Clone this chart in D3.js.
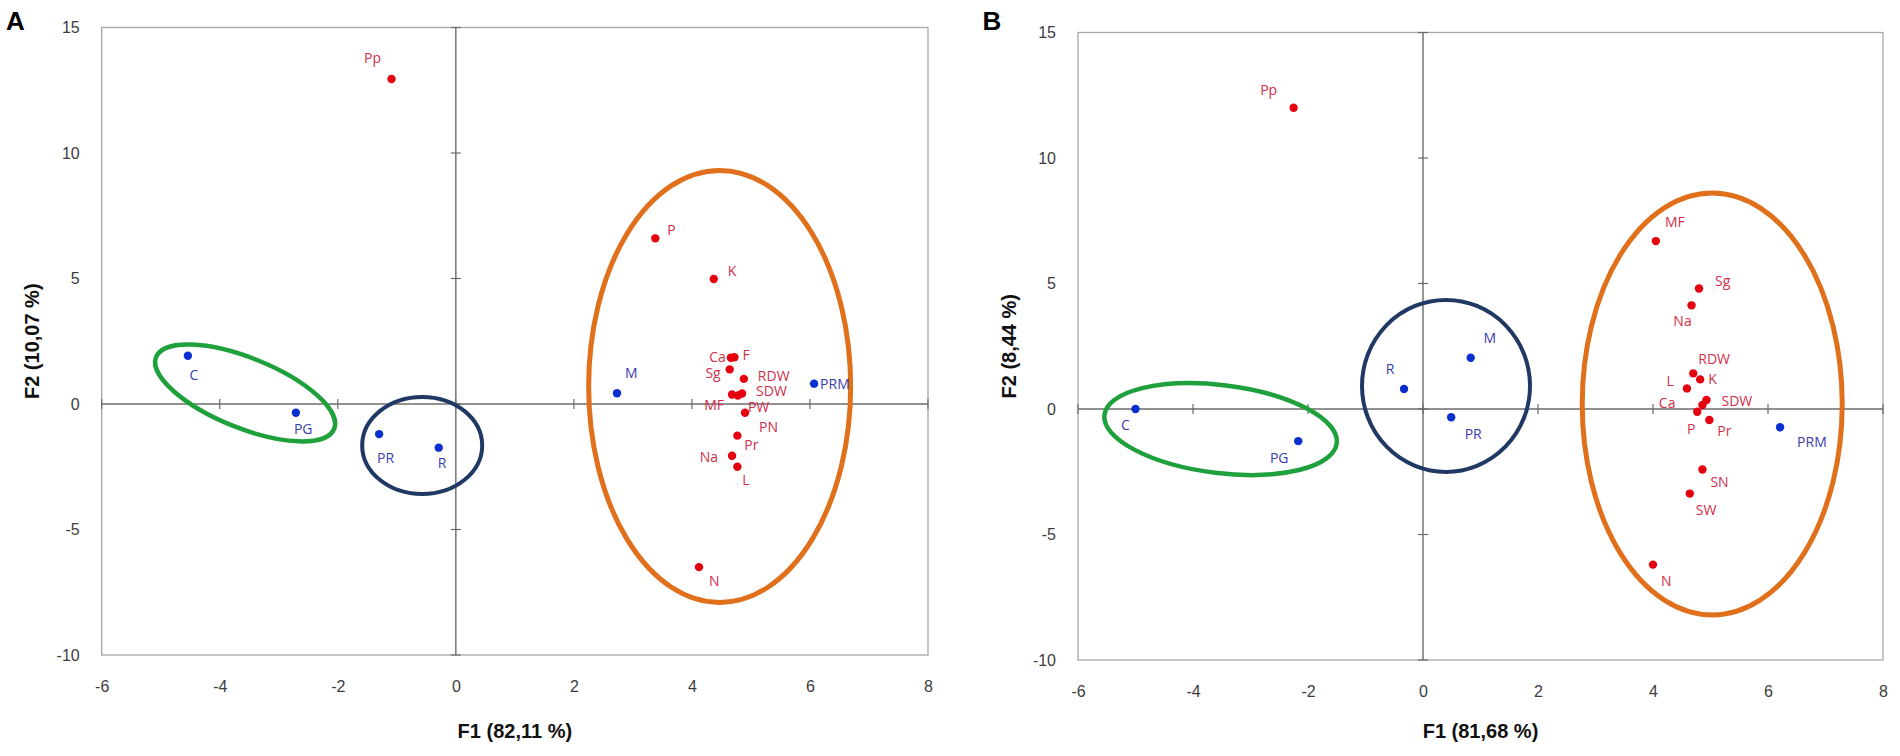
<!DOCTYPE html>
<html><head><meta charset="utf-8">
<script src="https://cdn.jsdelivr.net/npm/d3@7/dist/d3.min.js"></script>
<style>
body{margin:0;background:#fff;}
svg{display:block;}
</style></head>
<body>
<svg id="chart" width="1900" height="756"></svg>
<script>
// ---------- data ----------
const xTicks = [-6, -4, -2, 0, 2, 4, 6, 8];
const yTicks = [-10, -5, 0, 5, 10, 15];

const panelLetters = ["A", "B"];
const xTitles = ["F1 (82,11 %)", "F1 (81,68 %)"];
const yTitles = ["F2 (10,07 %)", "F2 (8,44 %)"];

// Panel A
const aNames = ["Pp","P","K","Ca","F","Sg","RDW","MF","SDW","PW","PN","Pr","Na","L","N","C","PG","PR","R","M","PRM"];
const aF1 =    [-1.09,3.38,4.37,4.66,4.72,4.64,4.88,4.68,4.85,4.78,4.90,4.77,4.68,4.77,4.12,-4.54,-2.71,-1.30,-0.29,2.73,6.07];
const aF2 =    [12.95,6.60,4.98,1.84,1.86,1.38,1.00,0.38,0.42,0.34,-0.35,-1.26,-2.06,-2.50,-6.50,1.92,-0.35,-1.20,-1.74,0.43,0.81];
const aType =  ["v","v","v","v","v","v","v","v","v","v","v","v","v","v","v","t","t","t","t","t","t"];

// Panel B
const bNames = ["Pp","MF","Sg","Na","RDW","K","L","SDW","Ca","P","Pr","SN","SW","N","C","PG","R","M","PR","PRM"];
const bF1 =    [-2.25,4.05,4.80,4.67,4.70,4.82,4.59,4.93,4.86,4.77,4.98,4.86,4.64,4.00,-5.00,-2.17,-0.33,0.83,0.49,6.21];
const bF2 =    [12.00,6.69,4.80,4.13,1.42,1.18,0.82,0.36,0.16,-0.11,-0.44,-2.41,-3.37,-6.20,0.00,-1.28,0.80,2.04,-0.33,-0.73];
const bType =  ["v","v","v","v","v","v","v","v","v","v","v","v","v","v","t","t","t","t","t","t"];

// Group ellipses (centres in F1/F2 units)
const aGroupCx = [-3.57, -0.57, 4.47];
const aGroupCy = [0.44, -1.65, 0.70];
const bGroupCx = [-3.52, 0.40, 5.03];
const bGroupCy = [-0.80, 0.92, 0.20];

// ---------- layout / style ----------
const layout = [
  {x0:101.7, x1:928, y0:655, y1:27.5, off:0},
  {x0:1078, x1:1883, y0:660, y1:32.5, off:976.5}
];
const groupStyle = [
  {color:"#1ea03c", width:4.5},
  {color:"#203864", width:4},
  {color:"#e0701c", width:5}
];
const aEll = [{rx:96, ry:35, rot:22},{rx:60, ry:48.5, rot:0},{rx:131, ry:216, rot:0}];
const bEll = [{rx:117, ry:44, rot:7},{rx:84, ry:86, rot:0},{rx:130, ry:211, rot:0}];

// label offsets [dx, dy(baseline), anchor]
const aLab = {
  Pp:[-19,-16,"middle"], P:[12,-3,"start"], K:[14,-3,"start"], Ca:[-5,4,"end"], F:[8,3,"start"],
  Sg:[-9,9,"end"], RDW:[14,2,"start"], MF:[-8,16,"end"], SDW:[14,3,"start"], PW:[10,17,"start"],
  PN:[14,19,"start"], Pr:[7,14,"start"], Na:[-14,6,"end"], L:[5,18,"start"], N:[10,19,"start"],
  C:[6,24,"middle"], PG:[-2,21,"start"], PR:[-2,29,"start"], R:[-1,20,"start"], M:[8,-15,"start"],
  PRM:[6,5,"start"]
};
const bLab = {
  Pp:[-25,-13,"middle"], MF:[9,-14,"start"], Sg:[16,-3,"start"], Na:[-9,21,"middle"], RDW:[5,-9,"start"],
  K:[8,5,"start"], L:[-13,-2,"end"], SDW:[15,6,"start"], Ca:[-27,3,"end"], P:[-6,22,"middle"],
  Pr:[8,16,"start"], SN:[8,18,"start"], SW:[6,21,"start"], N:[8,21,"start"], C:[-10,21,"middle"],
  PG:[-19,22,"middle"], R:[-14,-15,"middle"], M:[19,-15,"middle"], PR:[22,22,"middle"], PRM:[17,20,"start"]
};

const svg = d3.select("#chart");
const tickFont = "'Liberation Sans', Arial, sans-serif";

const panels = [
  {names:aNames, f1:aF1, f2:aF2, type:aType, gx:aGroupCx, gy:aGroupCy, ell:aEll, lab:aLab},
  {names:bNames, f1:bF1, f2:bF2, type:bType, gx:bGroupCx, gy:bGroupCy, ell:bEll, lab:bLab}
];

panels.forEach((p, i) => {
  const L = layout[i];
  const x = d3.scaleLinear().domain([xTicks[0], xTicks[xTicks.length-1]]).range([L.x0, L.x1]);
  const y = d3.scaleLinear().domain([yTicks[0], yTicks[yTicks.length-1]]).range([L.y0, L.y1]);
  const g = svg.append("g");

  // frame
  g.append("rect").attr("x", L.x0).attr("y", L.y1)
    .attr("width", L.x1 - L.x0).attr("height", L.y0 - L.y1)
    .attr("fill", "none").attr("stroke", "#a6a6a6").attr("stroke-width", 1.3);

  // axis lines through the origin
  g.append("line").attr("x1", L.x0).attr("x2", L.x1).attr("y1", y(0)).attr("y2", y(0))
    .attr("stroke", "#6b6b6b").attr("stroke-width", 1.4);
  g.append("line").attr("x1", x(0)).attr("x2", x(0)).attr("y1", L.y1).attr("y2", L.y0)
    .attr("stroke", "#6b6b6b").attr("stroke-width", 1.4);
  // small tick marks on axes
  yTicks.forEach(t => {
    g.append("line").attr("x1", x(0)-5).attr("x2", x(0)+5).attr("y1", y(t)).attr("y2", y(t))
      .attr("stroke", "#6b6b6b").attr("stroke-width", 1.2);
  });
  xTicks.forEach(t => {
    g.append("line").attr("x1", x(t)).attr("x2", x(t)).attr("y1", y(0)-5).attr("y2", y(0)+5)
      .attr("stroke", "#6b6b6b").attr("stroke-width", 1.2);
  });

  // tick labels via d3 axes (domain/ticks hidden)
  const fmt = d => String(d);
  const ax = g.append("g").attr("transform", `translate(0,${L.y0})`)
    .call(d3.axisBottom(x).tickValues(xTicks).tickFormat(fmt).tickSize(0).tickPadding(26));
  const ay = g.append("g").attr("transform", `translate(${L.x0},0)`)
    .call(d3.axisLeft(y).tickValues(yTicks).tickFormat(fmt).tickSize(0).tickPadding(22));
  [ax, ay].forEach(a => {
    a.select(".domain").remove();
    a.selectAll("text").attr("font-family", tickFont).attr("font-size", 16).attr("fill", "#3c3c3c");
  });

  // ellipses
  p.gx.forEach((cx, k) => {
    const e = p.ell[k];
    g.append("ellipse").attr("cx", 0).attr("cy", 0).attr("rx", e.rx).attr("ry", e.ry)
      .attr("transform", `translate(${x(cx)},${y(p.gy[k])}) rotate(${e.rot})`)
      .attr("fill", "none").attr("stroke", groupStyle[k].color).attr("stroke-width", groupStyle[k].width);
  });

  // points
  const pts = p.names.map((n, k) => ({n, x:p.f1[k], y:p.f2[k], t:p.type[k]}));
  g.selectAll("circle.pt").data(pts).join("circle").attr("class", "pt")
    .attr("cx", d => x(d.x)).attr("cy", d => y(d.y)).attr("r", 4.2)
    .attr("fill", d => d.t === "v" ? "#e5000f" : "#0a2fd0");
  g.selectAll("text.lab").data(pts).join("text").attr("class", "lab")
    .attr("x", d => x(d.x) + p.lab[d.n][0]).attr("y", d => y(d.y) + p.lab[d.n][1])
    .attr("text-anchor", d => p.lab[d.n][2])
    .attr("font-family", "'Open Sans', Arial, sans-serif").attr("font-size", 14)
    .attr("fill", d => d.t === "v" ? "#cf2f4a" : "#3a3db0")
    .text(d => d.n);

  // axis titles
  g.append("text").attr("x", (L.x0 + L.x1)/2).attr("y", 738).attr("text-anchor", "middle")
    .attr("font-family", "'Liberation Sans', Arial, sans-serif").attr("font-weight", "bold")
    .attr("font-size", 20).attr("fill", "#111").text(xTitles[i]);
  g.append("text").attr("transform", `translate(${39 + L.off},${(L.y0 + L.y1)/2}) rotate(-90)`)
    .attr("text-anchor", "middle")
    .attr("font-family", "'Liberation Sans', Arial, sans-serif").attr("font-weight", "bold")
    .attr("font-size", 20).attr("fill", "#111").text(yTitles[i]);

  // panel letter
  g.append("text").attr("x", 6 + L.off).attr("y", 30)
    .attr("font-family", "'Liberation Sans', Arial, sans-serif").attr("font-weight", "bold")
    .attr("font-size", 26).attr("fill", "#000").text(panelLetters[i]);
});
</script>
</body></html>
